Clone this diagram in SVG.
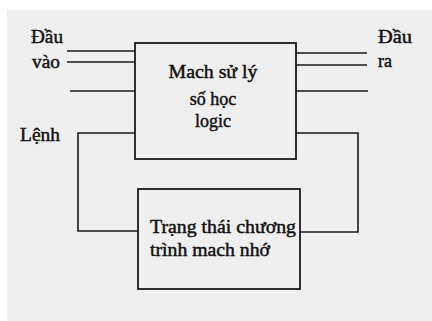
<svg xmlns="http://www.w3.org/2000/svg" width="432" height="321" viewBox="0 0 432 321">
<style>
.bx{fill:none;stroke:#1a1a1a;stroke-width:1.8}
.ln{fill:none;stroke:#1a1a1a;stroke-width:1.6}
.t{font-family:'Liberation Serif','DejaVu Serif',serif;fill:#111;font-size:18px;stroke:#111;stroke-width:0.45}
</style>
<rect x="0" y="0" width="432" height="321" fill="#ffffff"/>
<rect x="7" y="10" width="425" height="311" fill="#efefef"/>
<g id="connectors">
<line class="ln" x1="67" y1="51" x2="135" y2="51"/>
<line class="ln" x1="67" y1="62" x2="135" y2="62"/>
<line class="ln" x1="70" y1="91" x2="135" y2="91"/>
<line class="ln" x1="296" y1="53" x2="367" y2="53"/>
<line class="ln" x1="296" y1="65" x2="367" y2="65"/>
<line class="ln" x1="296" y1="91" x2="368" y2="91"/>
<polyline class="ln" points="135,133 78,133 78,231 138,231"/>
<polyline class="ln" points="296,133 358,133 358,232 300,232"/>
</g>
<g id="alu">
<rect class="bx" x="135" y="43" width="161" height="116"/>
<text class="t" x="213" y="78" text-anchor="middle" textLength="89" lengthAdjust="spacingAndGlyphs">Mach sử lý</text>
<text class="t" x="213" y="105" text-anchor="middle">số học</text>
<text class="t" x="213" y="127" text-anchor="middle">logic</text>
</g>
<g id="state">
<rect class="bx" x="138" y="189" width="162" height="100"/>
<text class="t" x="150" y="233" textLength="146" lengthAdjust="spacingAndGlyphs">Trạng thái chương</text>
<text class="t" x="150" y="256" textLength="120" lengthAdjust="spacingAndGlyphs">trình mach nhớ</text>
</g>
<g id="labels">
<text class="t" x="31" y="43" textLength="32" lengthAdjust="spacingAndGlyphs">Đầu</text>
<text class="t" x="32" y="68" textLength="28" lengthAdjust="spacingAndGlyphs">vào</text>
<text class="t" x="378" y="43" textLength="34" lengthAdjust="spacingAndGlyphs">Đầu</text>
<text class="t" x="378" y="67">ra</text>
<text class="t" x="20" y="141" textLength="40" lengthAdjust="spacingAndGlyphs">Lệnh</text>
</g>
</svg>
